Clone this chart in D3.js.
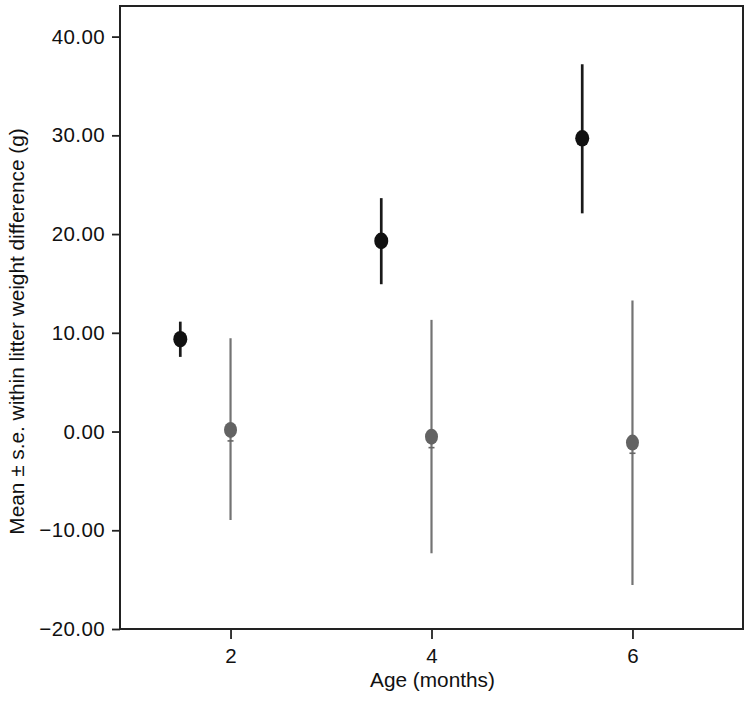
<!DOCTYPE html>
<html>
<head>
<meta charset="utf-8">
<script src="https://cdn.jsdelivr.net/npm/d3@7"></script>
<style>
  html, body { margin: 0; padding: 0; background: #fff; }
  svg { display: block; font-family: "Liberation Sans", Arial, Helvetica, sans-serif; }
</style>
</head>
<body>
<svg id="chart" width="750" height="704"></svg>
<script>
// ---- data ----
const xTicks = [2, 4, 6];
const yTicks = [-20, -10, 0, 10, 20, 30, 40];

const ageBlack  = [1.5, 3.5, 5.5];
const meanBlack = [9.35, 19.31, 29.7];
const loBlack   = [7.56, 14.92, 22.1];
const hiBlack   = [11.13, 23.64, 37.2];

const ageGray  = [2, 4, 6];
const meanGray = [0.16, -0.52, -1.12];
const loGray   = [-8.96, -12.33, -15.54];
const hiGray   = [9.45, 11.31, 13.26];
const markGray = [-0.95, -1.63, -2.2];

const xLabel = "Age (months)";
const yLabel = "Mean \u00B1 s.e. within litter weight difference (g)";

// ---- layout ----
const L = 120, R = 743, T = 6, B = 629;
const svg = d3.select("#chart");

const x = d3.scaleLinear().domain([0.9, 7.1]).range([L, R]);
const y = d3.scaleLinear().domain([-20, 43.1]).range([B, T]);

// axes
const yAxis = d3.axisLeft(y).tickValues(yTicks).tickSize(8).tickPadding(7)
  .tickFormat(d => (d < 0 ? "\u2212" + Math.abs(d).toFixed(2) : d.toFixed(2)));
const gy = svg.append("g").attr("transform", `translate(${L},0)`).call(yAxis);
gy.select(".domain").remove();
gy.selectAll(".tick line").attr("stroke", "#222").attr("stroke-width", 1.8);
gy.selectAll(".tick text").attr("font-size", 20.5).attr("letter-spacing", 0.4).attr("fill", "#111");

const xAxis = d3.axisBottom(x).tickValues(xTicks).tickSize(10).tickPadding(9)
  .tickFormat(d3.format("d"));
const gx = svg.append("g").attr("transform", `translate(0,${B})`).call(xAxis);
gx.select(".domain").remove();
gx.selectAll(".tick line").attr("stroke", "#222").attr("stroke-width", 1.8);
gx.selectAll(".tick text").attr("font-size", 20.5).attr("fill", "#111");

// frame
svg.append("rect")
  .attr("x", L).attr("y", T).attr("width", R - L).attr("height", B - T)
  .attr("fill", "none").attr("stroke", "#222").attr("stroke-width", 2);

// axis titles
svg.append("text")
  .attr("x", (L + R) / 2 + 1).attr("y", 687)
  .attr("text-anchor", "middle").attr("font-size", 20.8).attr("fill", "#111")
  .text(xLabel);
svg.append("text")
  .attr("transform", `translate(24,${(T + B) / 2 + 14}) rotate(-90)`)
  .attr("text-anchor", "middle").attr("font-size", 20.8).attr("fill", "#111")
  .text(yLabel);

// gray series
const gray = ageGray.map((a, i) => ({ a, m: meanGray[i], lo: loGray[i], hi: hiGray[i], mk: markGray[i] }));
const gG = svg.append("g");
gG.selectAll("line.err").data(gray).join("line").attr("class", "err")
  .attr("x1", d => x(d.a)).attr("x2", d => x(d.a))
  .attr("y1", d => y(d.hi)).attr("y2", d => y(d.lo))
  .attr("stroke", "#737373").attr("stroke-width", 2.2);
gG.selectAll("line.mk").data(gray).join("line").attr("class", "mk")
  .attr("x1", d => x(d.a) - 3).attr("x2", d => x(d.a) + 3)
  .attr("y1", d => y(d.mk)).attr("y2", d => y(d.mk))
  .attr("stroke", "#666").attr("stroke-width", 1.6);
gG.selectAll("ellipse").data(gray).join("ellipse")
  .attr("cx", d => x(d.a)).attr("cy", d => y(d.m))
  .attr("rx", 6.5).attr("ry", 8).attr("fill", "#636363");

// black series
const black = ageBlack.map((a, i) => ({ a, m: meanBlack[i], lo: loBlack[i], hi: hiBlack[i] }));
const gB = svg.append("g");
gB.selectAll("line").data(black).join("line")
  .attr("x1", d => x(d.a)).attr("x2", d => x(d.a))
  .attr("y1", d => y(d.hi)).attr("y2", d => y(d.lo))
  .attr("stroke", "#1a1a1a").attr("stroke-width", 2.7);
gB.selectAll("ellipse").data(black).join("ellipse")
  .attr("cx", d => x(d.a)).attr("cy", d => y(d.m))
  .attr("rx", 7).attr("ry", 8.3).attr("fill", "#111");
</script>
</body>
</html>
